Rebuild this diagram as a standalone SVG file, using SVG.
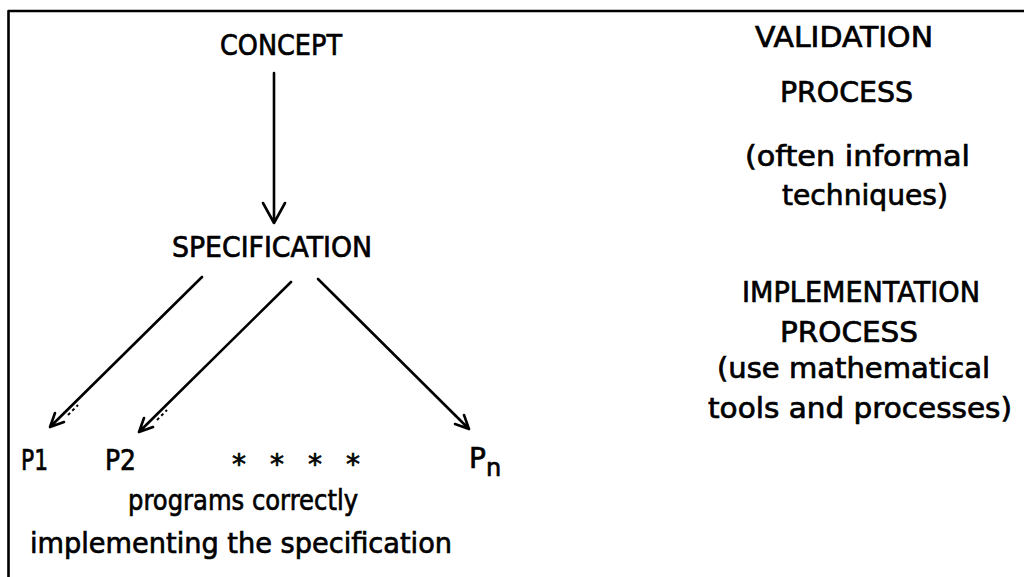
<svg xmlns="http://www.w3.org/2000/svg" width="1024" height="577" viewBox="0 0 1024 577">
<style>
text{font-family:"DejaVu Sans","Liberation Sans",sans-serif;font-size:28px;fill:#000;stroke:#000;stroke-width:0.7}
.ln{stroke:#000;stroke-width:2.6;fill:none;stroke-linecap:round;stroke-linejoin:round}
.dt{stroke:#000;stroke-width:2;fill:none;stroke-dasharray:3 3}
</style>
<rect width="1024" height="577" fill="#fff"/>
<g id="frame"><path class="ln" d="M8.5,577 V11 H1024" stroke-width="3"/></g>
<g id="concept"><text x="220" y="55" textLength="122" lengthAdjust="spacingAndGlyphs">CONCEPT</text></g>
<g id="specification"><text x="172" y="257" textLength="200" lengthAdjust="spacingAndGlyphs">SPECIFICATION</text></g>
<g id="p1"><text x="21" y="470" textLength="27" lengthAdjust="spacingAndGlyphs">P1</text></g>
<g id="p2"><text x="105" y="470" textLength="31" lengthAdjust="spacingAndGlyphs">P2</text></g>
<g id="dots"><text x="232" y="474" textLength="128" lengthAdjust="spacing" font-size="24">* * * *</text></g>
<g id="pn"><text x="469" y="468">P<tspan font-size="24" dy="8">n</tspan></text></g>
<g id="programs">
<text x="128" y="510" textLength="230" lengthAdjust="spacingAndGlyphs">programs correctly</text>
<text x="30" y="553" textLength="422" lengthAdjust="spacingAndGlyphs">implementing the specification</text>
</g>
<g id="validation">
<text x="755" y="47" textLength="178" lengthAdjust="spacingAndGlyphs">VALIDATION</text>
<text x="780" y="102" textLength="133" lengthAdjust="spacingAndGlyphs">PROCESS</text>
<text x="745" y="166" textLength="225" lengthAdjust="spacingAndGlyphs">(often informal</text>
<text x="782" y="205" textLength="166" lengthAdjust="spacingAndGlyphs">techniques)</text>
</g>
<g id="implementation">
<text x="742" y="302" textLength="238" lengthAdjust="spacingAndGlyphs">IMPLEMENTATION</text>
<text x="780" y="342" textLength="138" lengthAdjust="spacingAndGlyphs">PROCESS</text>
<text x="717" y="378" textLength="273" lengthAdjust="spacingAndGlyphs">(use mathematical</text>
<text x="708" y="418" textLength="304" lengthAdjust="spacingAndGlyphs">tools and processes)</text>
</g>
<g id="connectors">
<path class="ln" d="M274,73 V223 M263,203 L274,223 L285,203"/>
<path class="ln" d="M202,277 L50,427 M55,413 L50,427 L64,422"/>
<path class="dt" d="M68,415 L78,405"/>
<path class="ln" d="M291,282 L139,432 M144,418 L139,432 L153,427"/>
<path class="dt" d="M157,420 L167,410"/>
<path class="ln" d="M318,279 L469,429 M455,424 L469,429 L464,415"/>
<path class="dt" d="M450,410 L460,420"/>
</g>
</svg>
